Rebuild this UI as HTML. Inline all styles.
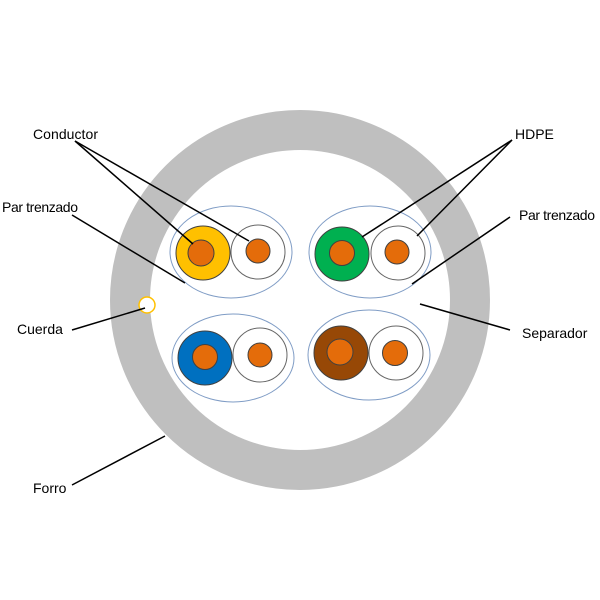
<!DOCTYPE html>
<html><head><meta charset="utf-8"><style>html,body{margin:0;padding:0;background:#fff}svg{display:block}text{font-family:"Liberation Sans",sans-serif;font-size:14px;fill:#000}</style></head><body>
<svg width="600" height="600" viewBox="0 0 600 600" xmlns="http://www.w3.org/2000/svg">
<rect width="600" height="600" fill="#fff"/>
<circle cx="300" cy="300" r="170" fill="none" stroke="#bfbfbf" stroke-width="40"/>
<g fill="none" stroke="#7f9cc5" stroke-width="1">
<ellipse cx="231" cy="252" rx="61" ry="46"/>
<ellipse cx="370" cy="252" rx="61" ry="46"/>
<ellipse cx="233" cy="358" rx="61" ry="44"/>
<ellipse cx="369" cy="355" rx="61" ry="45"/>
</g>
<g stroke="#404040" stroke-width="1">
<circle cx="203" cy="253" r="27" fill="#ffc000"/>
<circle cx="258" cy="252" r="27" fill="#fff" stroke="#666"/>
<circle cx="342" cy="254" r="27" fill="#00b050"/>
<circle cx="398" cy="253" r="27" fill="#fff" stroke="#666"/>
<circle cx="205" cy="358" r="27" fill="#0070c0"/>
<circle cx="260" cy="355" r="27" fill="#fff" stroke="#666"/>
<circle cx="341" cy="353" r="27" fill="#974806"/>
<circle cx="396" cy="353" r="27" fill="#fff" stroke="#666"/>
<g fill="#e46c0a">
<circle cx="201" cy="253" r="13"/><circle cx="258" cy="251" r="12"/>
<circle cx="342" cy="253" r="12.5"/><circle cx="397" cy="252" r="12"/>
<circle cx="205" cy="357" r="12.5"/><circle cx="260" cy="355" r="12"/>
<circle cx="340" cy="352" r="13"/><circle cx="395" cy="353" r="12.5"/>
</g>
</g>
<circle cx="147" cy="305" r="8" fill="#fff" stroke="#ffc000" stroke-width="1.5"/>
<g stroke="#000" stroke-width="1.5">
<line x1="75" y1="141" x2="193" y2="244"/>
<line x1="75" y1="141" x2="249" y2="241"/>
<line x1="72" y1="215" x2="185" y2="283"/>
<line x1="72" y1="330" x2="145" y2="308"/>
<line x1="72" y1="485" x2="165" y2="436"/>
<line x1="512" y1="140" x2="362" y2="237"/>
<line x1="512" y1="140" x2="417" y2="236"/>
<line x1="510" y1="217" x2="412" y2="284"/>
<line x1="420" y1="304" x2="510" y2="330"/>
</g>
<text x="33" y="139" textLength="65">Conductor</text>
<text x="2" y="212" textLength="76">Par trenzado</text>
<text x="17" y="334">Cuerda</text>
<text x="33" y="493">Forro</text>
<text x="515" y="139">HDPE</text>
<text x="519" y="220" textLength="76">Par trenzado</text>
<text x="522" y="338">Separador</text>
</svg>
</body></html>
